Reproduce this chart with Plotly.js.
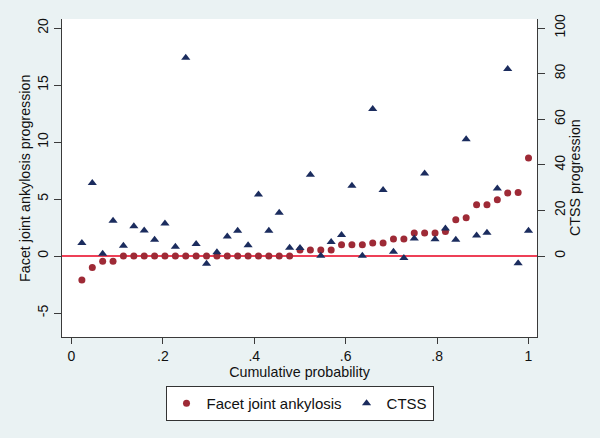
<!DOCTYPE html>
<html>
<head>
<meta charset="utf-8">
<script src="https://cdn.plot.ly/plotly-3.0.1.min.js"></script>
<style>html,body{margin:0;padding:0;background:#EAF2F3;}#chart{width:600px;height:438px;}</style>
</head>
<body>
<div id="chart"></div>
<script>
// Cumulative probability (x) for each of the 44 observations
var cumProb = [0.0227, 0.0455, 0.0682, 0.0909, 0.1136, 0.1364, 0.1591, 0.1818, 0.2045, 0.2273,
  0.25, 0.2727, 0.2955, 0.3182, 0.3409, 0.3636, 0.3864, 0.4091, 0.4318, 0.4545,
  0.4773, 0.5, 0.5227, 0.5455, 0.5682, 0.5909, 0.6136, 0.6364, 0.6591, 0.6818,
  0.7045, 0.7273, 0.75, 0.7727, 0.7955, 0.8182, 0.8409, 0.8636, 0.8864, 0.9091,
  0.9318, 0.9545, 0.9773, 1.0];

// Facet joint ankylosis progression (left axis)
var facetProg = [-2.1, -1.0, -0.47, -0.47, 0, 0, 0, 0, 0, 0,
  0, 0, 0, 0, 0, 0, 0, 0, 0, 0,
  0, 0.53, 0.53, 0.53, 0.53, 0.99, 0.99, 0.99, 1.14, 1.14,
  1.49, 1.49, 2.02, 2.02, 2.02, 2.16, 3.19, 3.36, 4.5, 4.5,
  4.94, 5.53, 5.58, 8.6];

// CTSS progression (right axis)
var ctssProg = [5.7, 32, 1.0, 15.5, 4.5, 13.1, 11.2, 7.1, 14.3, 4.1,
  87, 5.25, -3.4, 1.6, 8.5, 11.1, 4.7, 27, 11.1, 19,
  3.6, 3.5, 35.6, 0.1, 6.1, 9.2, 30.8, 0.1, 64.5, 28.9,
  1.9, -0.9, 7.7, 36.2, 7.3, 12.1, 7.1, 51.2, 9.0, 10.2,
  29.6, 82, -3.2, 11.1];

// Tick labels
var xTickVals = [0, 0.2, 0.4, 0.6, 0.8, 1];
var xTickText = ['0', '.2', '.4', '.6', '.8', '1'];
var yTickVals = [-5, 0, 5, 10, 15, 20];
var yTickText = ['-5', '0', '5', '10', '15', '20'];
var y2TickVals = [0, 20, 40, 60, 80, 100];
var y2TickText = ['0', '20', '40', '60', '80', '100'];

var seriesNames = ['Facet joint ankylosis', 'CTSS'];
var axisTitles = {x: 'Cumulative probability', y: 'Facet joint ankylosis progression', y2: 'CTSS progression'};
var FONT = '"Liberation Sans", Arial, sans-serif';
var AX = '#3a3a3a';

var traces = [
  {x: cumProb, y: facetProg, type: 'scatter', mode: 'markers', name: seriesNames[0],
   marker: {symbol: 'circle', size: 7, color: '#9E2A36'}, yaxis: 'y'},
  {x: cumProb, y: ctssProg, type: 'scatter', mode: 'markers', name: seriesNames[1],
   marker: {symbol: 'triangle-up', size: 8, color: '#1B2C5E'}, yaxis: 'y2'}
];

var layout = {
  width: 600, height: 438,
  paper_bgcolor: '#EAF2F3', plot_bgcolor: '#FFFFFF',
  margin: {l: 62, r: 63, t: 19, b: 101, pad: 0},
  font: {family: FONT, size: 14, color: '#111'},
  showlegend: true,
  xaxis: {
    range: [-0.0208, 1.0186], tickvals: xTickVals, ticktext: xTickText,
    ticks: 'outside', ticklen: 6, tickcolor: AX, tickwidth: 1,
    showline: true, linecolor: AX, linewidth: 1, showgrid: false, zeroline: false,
    tickfont: {size: 14}, automargin: false,
    title: {text: axisTitles.x, font: {size: 14.3}, standoff: 0}
  },
  yaxis: {
    range: [-7.105, 20.79], tickvals: yTickVals, ticktext: yTickText, tickangle: -90,
    ticks: 'outside', ticklen: 7, tickcolor: AX, tickwidth: 1,
    showline: true, linecolor: AX, linewidth: 1, showgrid: false, zeroline: false,
    tickfont: {size: 14}, automargin: false
  },
  yaxis2: {
    range: [-35.53, 103.95], tickvals: y2TickVals, ticktext: y2TickText, tickangle: -90,
    overlaying: 'y', side: 'right',
    ticks: 'outside', ticklen: 7, tickcolor: AX, tickwidth: 1,
    showline: true, linecolor: AX, linewidth: 1, showgrid: false, zeroline: false,
    tickfont: {size: 14}, automargin: false, ticklabelstandoff: 3
  },
  annotations: [
    {text: axisTitles.y, xref: 'paper', yref: 'paper', x: -0.078, y: 0.5,
     xanchor: 'center', yanchor: 'middle', textangle: -90, showarrow: false, font: {size: 14.3}},
    {text: axisTitles.y2, xref: 'paper', yref: 'paper', x: 1.08, y: 0.5,
     xanchor: 'center', yanchor: 'middle', textangle: -90, showarrow: false, font: {size: 14.3}}
  ],
  legend: {
    orientation: 'h', x: 0.5, xanchor: 'center', y: -0.154, yanchor: 'top',
    bgcolor: '#FFFFFF', bordercolor: '#333', borderwidth: 1,
    font: {size: 15}, itemwidth: 30
  },
  shapes: [
    {type: 'line', xref: 'paper', x0: 0, x1: 1, yref: 'y', y0: 0, y1: 0,
     line: {color: '#E8001F', width: 1.5}, layer: 'below'}
  ]
};

Plotly.newPlot('chart', traces, layout, {displayModeBar: false, staticPlot: true});
</script>
</body>
</html>
